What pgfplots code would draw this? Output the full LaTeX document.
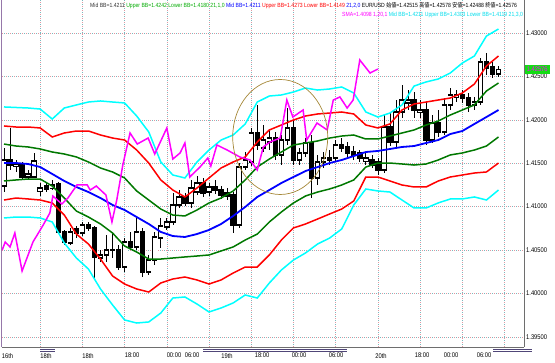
\documentclass[border=0pt]{standalone}
\usepackage{pgfplots}
\pgfplotsset{compat=1.18}
\usepackage{pgfplotstable}
\usepackage{fontspec}
\setmainfont{Liberation Sans}[FakeStretch=0.85]
\newfontfamily\cjk{Noto Sans CJK JP}[FakeStretch=0.85]

\definecolor{bbcyan}{RGB}{0,255,255}
\definecolor{bbred}{RGB}{255,0,0}
\definecolor{bbgreen}{RGB}{0,120,0}
\definecolor{bbblue}{RGB}{0,0,255}
\definecolor{smamag}{RGB}{255,0,255}
\definecolor{gridA}{RGB}{225,150,160}
\definecolor{gridB}{RGB}{120,185,190}
\definecolor{ellcol}{RGB}{165,135,55}
\definecolor{txtgreen}{RGB}{0,170,0}
\definecolor{txtcyan}{RGB}{0,220,235}
\definecolor{framecol}{RGB}{110,110,110}
\definecolor{leftcol}{RGB}{150,120,170}
\definecolor{sepcol}{RGB}{80,70,120}
\definecolor{pricebox}{RGB}{20,220,20}

\pgfplotstableread{
i o h l c
0 1.41237 1.41675 1.41168 1.41537
1 1.41537 1.41906 1.41422 1.41479
2 1.41468 1.41537 1.41399 1.41491
3 1.41479 1.41514 1.41307 1.41341
4 1.41341 1.41422 1.41307 1.41376
5 1.41341 1.41618 1.41330 1.41525
6 1.41180 1.41272 1.41122 1.41214
7 1.41237 1.41284 1.41168 1.41203
8 1.41214 1.41307 1.41191 1.41249
9 1.41260 1.41284 1.40684 1.40708
10 1.40708 1.40731 1.40558 1.40592
11 1.40581 1.40754 1.40558 1.40708
12 1.40742 1.40777 1.40638 1.40696
13 1.40696 1.40823 1.40661 1.40788
14 1.40788 1.40823 1.40719 1.40754
15 1.40754 1.40777 1.40155 1.40420
16 1.40408 1.40500 1.40362 1.40443
17 1.40443 1.40673 1.40362 1.40500
18 1.40500 1.40708 1.40408 1.40494
19 1.40500 1.40558 1.40270 1.40304
20 1.40304 1.40638 1.40247 1.40592
21 1.40592 1.40708 1.40500 1.40535
22 1.40535 1.40869 1.40500 1.40708
23 1.40708 1.40754 1.40189 1.40247
24 1.40247 1.40443 1.40212 1.40385
25 1.40385 1.40708 1.40327 1.40650
26 1.40638 1.40869 1.40523 1.40777
27 1.40765 1.40869 1.40731 1.40823
28 1.40823 1.41157 1.40788 1.41019
29 1.41019 1.41191 1.40984 1.41111
30 1.41111 1.41157 1.41007 1.41042
31 1.41042 1.41307 1.40984 1.41214
32 1.41168 1.41353 1.41134 1.41272
33 1.41272 1.41330 1.41111 1.41157
34 1.41168 1.41272 1.41122 1.41226
35 1.41226 1.41307 1.41145 1.41191
36 1.41191 1.41237 1.41088 1.41134
37 1.41157 1.41214 1.41076 1.41122
38 1.41134 1.41168 1.40696 1.40788
39 1.40788 1.41502 1.40754 1.41456
40 1.41456 1.41629 1.41422 1.41537
41 1.41514 1.41906 1.41468 1.41848
42 1.41848 1.42171 1.41652 1.41710
43 1.41675 1.41940 1.41629 1.41767
44 1.41744 1.41883 1.41652 1.41790
45 1.41790 1.41860 1.41537 1.41595
46 1.41595 1.41825 1.41479 1.41767
47 1.41767 1.42136 1.41710 1.41906
48 1.41906 1.41998 1.41479 1.41537
49 1.41537 1.41675 1.41479 1.41618
50 1.41618 1.41790 1.41572 1.41733
51 1.41733 1.41825 1.41099 1.41330
52 1.41330 1.41595 1.41249 1.41514
53 1.41514 1.41629 1.41445 1.41560
54 1.41560 1.41652 1.41479 1.41537
55 1.41560 1.41767 1.41514 1.41710
56 1.41710 1.41790 1.41629 1.41675
57 1.41687 1.41744 1.41572 1.41618
58 1.41629 1.41698 1.41537 1.41595
59 1.41618 1.41652 1.41514 1.41560
60 1.41525 1.41629 1.41479 1.41560
61 1.41537 1.41595 1.41445 1.41479
62 1.41514 1.41560 1.41364 1.41422
63 1.41422 1.42055 1.41387 1.41917
64 1.41917 1.42090 1.41698 1.41744
65 1.41744 1.42228 1.41675 1.42090
66 1.42090 1.42401 1.42021 1.42228
67 1.42194 1.42343 1.42113 1.42228
68 1.42228 1.42320 1.42021 1.42113
69 1.42090 1.42228 1.42021 1.42113
70 1.42113 1.42205 1.41710 1.41767
71 1.41767 1.42055 1.41733 1.41963
72 1.41963 1.42113 1.41802 1.41860
73 1.41860 1.42251 1.41825 1.42171
74 1.42171 1.42366 1.42113 1.42286
75 1.42263 1.42343 1.42205 1.42286
76 1.42286 1.42343 1.42194 1.42251
77 1.42251 1.42309 1.42090 1.42171
78 1.42171 1.42263 1.42113 1.42205
79 1.42205 1.42712 1.42171 1.42666
80 1.42666 1.42770 1.42516 1.42597
81 1.42608 1.42666 1.42482 1.42528
82 1.42528 1.42620 1.42493 1.42576
}\candles

\pgfplotstableread{
i cu ru gu bm gl rl cl
0 1.42148 1.41929 1.41721 1.41502 1.41295 1.41076 1.40869
2 1.42142 1.41917 1.41698 1.41502 1.41307 1.41099 1.40880
4 1.42136 1.41917 1.41687 1.41491 1.41318 1.41088 1.40880
6 1.42124 1.41906 1.41664 1.41456 1.41318 1.41076 1.40869
8 1.42009 1.41802 1.41629 1.41376 1.41237 1.41042 1.40823
10 1.42136 1.41848 1.41606 1.41295 1.41099 1.40903 1.40581
12 1.42171 1.41871 1.41572 1.41226 1.40949 1.40684 1.40408
14 1.42205 1.41871 1.41514 1.41168 1.40880 1.40569 1.40281
16 1.42217 1.41825 1.41445 1.41099 1.40800 1.40396 1.40051
18 1.42205 1.41790 1.41399 1.41019 1.40696 1.40201 1.39867
20 1.42194 1.41767 1.41330 1.40961 1.40546 1.40108 1.39694
22 1.42044 1.41652 1.41180 1.40880 1.40477 1.40051 1.39659
24 1.41860 1.41502 1.41076 1.40800 1.40396 1.40016 1.39671
26 1.41514 1.41307 1.40972 1.40708 1.40396 1.40120 1.39774
28 1.41364 1.41191 1.40903 1.40661 1.40408 1.40166 1.39947
30 1.41330 1.41111 1.40892 1.40650 1.40420 1.40189 1.39959
32 1.41514 1.41214 1.40961 1.40684 1.40431 1.40155 1.39878
34 1.41652 1.41330 1.41042 1.40731 1.40443 1.40108 1.39786
36 1.41767 1.41445 1.41099 1.40800 1.40489 1.40155 1.39832
38 1.41825 1.41514 1.41180 1.40892 1.40535 1.40235 1.39890
40 1.41952 1.41572 1.41307 1.40996 1.40615 1.40304 1.39982
42 1.42205 1.41744 1.41456 1.41111 1.40684 1.40304 1.39947
44 1.42274 1.41883 1.41548 1.41191 1.40823 1.40443 1.40120
46 1.42286 1.41940 1.41629 1.41272 1.40938 1.40615 1.40270
48 1.42320 1.41998 1.41710 1.41341 1.41042 1.40754 1.40385
50 1.42366 1.42044 1.41733 1.41410 1.41122 1.40800 1.40466
52 1.42343 1.42067 1.41756 1.41456 1.41168 1.40857 1.40569
54 1.42355 1.42078 1.41790 1.41502 1.41203 1.40915 1.40638
56 1.42378 1.42090 1.41813 1.41537 1.41249 1.40972 1.40742
58 1.42309 1.42067 1.41825 1.41583 1.41307 1.41065 1.41019
60 1.42090 1.41940 1.41779 1.41629 1.41456 1.41341 1.41203
62 1.42032 1.41906 1.41779 1.41641 1.41502 1.41341 1.41180
64 1.42078 1.41952 1.41813 1.41664 1.41502 1.41295 1.41168
66 1.42171 1.42113 1.41848 1.41687 1.41491 1.41249 1.41076
68 1.42389 1.42182 1.41883 1.41698 1.41479 1.41226 1.40984
70 1.42436 1.42205 1.41940 1.41733 1.41491 1.41226 1.40984
72 1.42470 1.42228 1.41986 1.41767 1.41537 1.41295 1.41042
74 1.42539 1.42251 1.42055 1.41836 1.41595 1.41341 1.41088
76 1.42654 1.42309 1.42113 1.41871 1.41618 1.41364 1.41088
78 1.42735 1.42412 1.42171 1.41952 1.41652 1.41387 1.41111
80 1.42965 1.42620 1.42332 1.42032 1.41698 1.41399 1.41076
82 1.43046 1.42735 1.42424 1.42113 1.41802 1.41502 1.41191
}\bands

\pgfplotstableread{
i p
-0.3 1.40500
0.2 1.40592
1.0 1.40535
1.8 1.40696
3.0 1.40258
4.8 1.40592
6.5 1.40788
7.6 1.40926
8.1 1.41122
9.6 1.41030
10.6 1.41099
12.1 1.41249
13.8 1.41249
14.3 1.41191
15.3 1.41237
16.9 1.41134
17.9 1.40823
18.7 1.41076
19.7 1.41479
20.9 1.41848
22.1 1.41721
23.9 1.41790
25.0 1.41606
27.0 1.41906
28.0 1.41548
29.2 1.41618
30.0 1.41733
30.8 1.41341
32.5 1.41456
33.8 1.41560
34.3 1.41468
35.3 1.41710
37.0 1.41652
39.1 1.41572
40.8 1.41537
42.0 1.41422
43.0 1.41687
44.1 1.41744
45.8 1.41790
46.9 1.42228
47.9 1.42032
49.6 1.42113
50.2 1.41767
51.9 1.41963
53.6 1.41883
54.6 1.42228
55.7 1.42263
56.9 1.42136
57.9 1.42228
59.0 1.42689
60.7 1.42539
62.0 1.42585
}\sma

\begin{document}
\begin{tikzpicture}[x=1pt,y=1pt]
\path[use as bounding box] (0,0) rectangle (555,-363);
\begin{axis}[
  at={(2pt,-347pt)}, anchor=south west,
  scale only axis, width=522pt, height=347pt,
  xmin=-0.332, xmax=86.23, ymin=1.393827, ymax=1.433802,
  axis line style={draw=none},
  major tick length=0pt,
  xtick={0.58,6.97,13.93,21.23,28.19,31.18,36.98,42.79,48.92,55.06,62.52,69.32,74.13,79.60},
  xticklabels={16th,18th,18th,18:00,00:00,06:00,19th,18:00,00:00,06:00,20th,18:00,00:00,06:00},
  xticklabel style={font=\fontsize{6.8}{7}\selectfont, inner sep=0pt, anchor=north, yshift=-6pt},
  ytick={1.395,1.40,1.405,1.41,1.415,1.42,1.425,1.43},
  yticklabels={1.39500,1.40000,1.40500,1.41000,1.41500,1.42000,1.42500,1.43000},
  yticklabel pos=right,
  yticklabel style={font=\fontsize{6.8}{7}\selectfont, inner sep=0pt, anchor=west, xshift=2pt},
]
% grid
\pgfplotsinvokeforeach{6,13,20,27,34,41,48,55,62,69,76,83}{
  \draw[gridA, dash pattern=on 1pt off 3pt, line width=0.6pt] (axis cs:#1,1.393827) -- (axis cs:#1,1.433802);
  \draw[gridB, dash pattern=on 1pt off 3pt, dash phase=2pt, line width=0.6pt] (axis cs:#1,1.393827) -- (axis cs:#1,1.433802);
}
\pgfplotsinvokeforeach{1.395,1.40,1.405,1.41,1.415,1.42,1.425,1.43}{
  \draw[gridA, dash pattern=on 1pt off 3pt, line width=0.6pt] (axis cs:-0.332,#1) -- (axis cs:86.23,#1);
  \draw[gridB, dash pattern=on 1pt off 3pt, dash phase=2pt, line width=0.6pt] (axis cs:-0.332,#1) -- (axis cs:86.23,#1);
}
% candles: wicks
\addplot[draw=none, mark=none, forget plot,
  error bars/.cd, y dir=both, y explicit, error mark=none,
  error bar style={draw=black, line width=0.7pt, solid}]
  table[x=i, y expr={0.5*(\thisrow{h}+\thisrow{l})}, y error expr={0.5*(\thisrow{h}-\thisrow{l})}] {\candles};
% bodies outline
\addplot[draw=none, mark=none, forget plot,
  error bars/.cd, y dir=both, y explicit, error mark=none,
  error bar style={draw=black, line width=5.4pt, solid}]
  table[x=i, y expr={0.5*(\thisrow{o}+\thisrow{c})}, y error expr={0.5*abs(\thisrow{c}-\thisrow{o})+0.00007}] {\candles};
% bull bodies fill
\addplot[draw=none, mark=none, forget plot,
  error bars/.cd, y dir=both, y explicit, error mark=none,
  error bar style={draw=white, line width=3.8pt, solid}]
  table[x=i, y expr={0.5*(\thisrow{o}+\thisrow{c})}, y error expr={(\thisrow{c}>\thisrow{o}) ? max(0.5*(\thisrow{c}-\thisrow{o})-0.00007,0) : 0}] {\candles};
% bands
\addplot[bbcyan, line width=1.5pt, mark=none] table[x=i, y=cu] {\bands};
\addplot[bbcyan, line width=1.5pt, mark=none] table[x=i, y=cl] {\bands};
\addplot[bbred, line width=1.5pt, mark=none] table[x=i, y=ru] {\bands};
\addplot[bbred, line width=1.5pt, mark=none] table[x=i, y=rl] {\bands};
\addplot[bbgreen, line width=1.5pt, mark=none] table[x=i, y=gu] {\bands};
\addplot[bbgreen, line width=1.5pt, mark=none] table[x=i, y=gl] {\bands};
\addplot[bbblue, line width=1.8pt, mark=none] table[x=i, y=bm] {\bands};
\addplot[smamag, line width=1.5pt, mark=none] table[x=i, y=p] {\sma};
\draw[ellcol, line width=0.7pt] (axis cs:45.8,1.41802) ellipse [x radius=47.5pt, y radius=57.5pt];
\end{axis}
% frame
\draw[leftcol, line width=1.2pt] (1.5,0) -- (1.5,-347);
\draw[framecol, line width=0.8pt] (1.5,-347) -- (524,-347);
\draw[framecol, line width=0.8pt] (524,0) -- (524,-347);
% separators under the time axis
\foreach \a/\b in {40/55, 203/347, 493/532}{
  \draw[sepcol, line width=0.5pt] (\a,-349.3) -- (\b,-349.3);
  \draw[sepcol, line width=0.5pt] (\a,-351.6) -- (\b,-351.6);
}
% price box
\node[fill=pricebox, text=smamag, inner sep=0.5pt, anchor=west, minimum height=9pt, minimum width=25pt,
  font=\fontsize{6.8}{7}\selectfont] at (524.5,-69.5) {1.42576};
% indicator captions
\begin{scope}[every node/.style={anchor=west, inner sep=0pt, font=\fontsize{6}{7}\selectfont}]
\node at (90,-6) {{\color{black!80}Mid BB=1.4211} {\color{txtgreen}Upper BB=1.4242 Lower BB=1.4180 21,1,0} {\color{bbblue}Mid BB=1.4211} {\color{bbred}Upper BB=1.4273 Lower BB=1.4149} {\color{bbblue}21,2,0} EUR/USD {\cjk 始値}=1.42515 {\cjk 高値}=1.42578 {\cjk 安値}=1.42488 {\cjk 終値}=1.42576};
\node at (342,-15) {{\color{smamag}SMA=1.4098 1,20,1} {\color{txtcyan}Mid BB=1.4211 Upper BB=1.4303 Lower BB=1.4119 21,3,0}};
\end{scope}
\end{tikzpicture}
\end{document}
